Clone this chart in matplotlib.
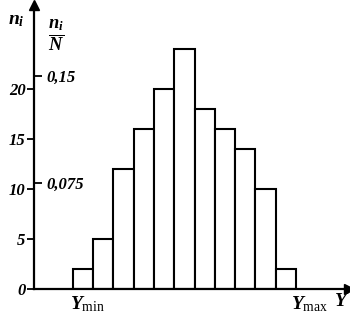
import matplotlib
matplotlib.use('Agg')
import matplotlib.pyplot as plt
import numpy as np

# histogram data
counts = [2, 5, 12, 16, 20, 24, 18, 16, 14, 10, 2]
bin_left = list(range(len(counts)))   # Y_min .. Y_max in bin units
N = 142                               # total, from the n_i/N scale
count_ticks = [0, 5, 10, 15, 20]
freq_ticks = [0.075, 0.15]
freq_labels = ['0,075', '0,15']

plt.rcParams['font.family'] = ['Liberation Serif', 'DejaVu Serif']
plt.rcParams['mathtext.fontset'] = 'custom'
plt.rcParams['mathtext.it'] = 'Liberation Serif:italic:bold'
plt.rcParams['mathtext.rm'] = 'Liberation Serif'
plt.rcParams['mathtext.bf'] = 'Liberation Serif:bold'

fig = plt.figure(figsize=(3.5, 3.2), dpi=100)
ax = fig.add_axes([34/350, 31/320, 315/350, 284/320])

ax.bar(bin_left, counts, width=1, align='edge', color='white',
       edgecolor='black', linewidth=1.5)

ax.set_xlim(-1.906, 13.61)
ax.set_ylim(0, 28.4)
for s in ['top', 'right']:
    ax.spines[s].set_visible(False)
for s in ['left', 'bottom']:
    ax.spines[s].set_linewidth(1.6)

ax.set_xticks([])
ax.set_yticks(count_ticks)
ax.set_yticklabels([str(t) for t in count_ticks], fontstyle='italic',
                   fontweight='bold', fontsize=12)
ax.tick_params(axis='y', direction='out', length=5, width=1.3, pad=1)

# arrows on axes
ax.plot(0, 1, marker='^', color='black', markersize=7,
        transform=ax.transAxes, clip_on=False)
ax.plot(1, 0, marker='>', color='black', markersize=7,
        transform=ax.transAxes, clip_on=False)

# relative frequency scale on the right side of the same axis
ax2 = ax.twinx()
ax2.set_ylim(0, 28.4 / N)
ax2.spines['right'].set_position(('axes', 0))
ax2.spines['right'].set_visible(False)
for s in ['top', 'left', 'bottom']:
    ax2.spines[s].set_visible(False)
ax2.set_yticks(freq_ticks)
ax2.set_yticklabels(freq_labels, fontstyle='italic', fontweight='bold',
                    fontsize=12)
ax2.tick_params(axis='y', direction='out', length=6, width=1.3, pad=3)

# labels
fig.text(16/350, 1 - 20/320, r'$n_i$', fontsize=14,
         ha='center', va='center')
fig.text(56/350, 1 - 36/320, r'$\frac{n_i}{N}$',
         fontsize=19, ha='center', va='center')
ax.text(-0.12, -1.5, r'$Y_{\mathrm{min}}$', fontsize=14,
        ha='left', va='center', clip_on=False)
ax.text(10.75, -1.5, r'$Y_{\mathrm{max}}$', fontsize=14,
        ha='left', va='center', clip_on=False)
fig.text(349/350, 1 - 302/320, r'$Y$', fontsize=14,
         ha='right', va='center')

fig.savefig('out.png', dpi=100)
